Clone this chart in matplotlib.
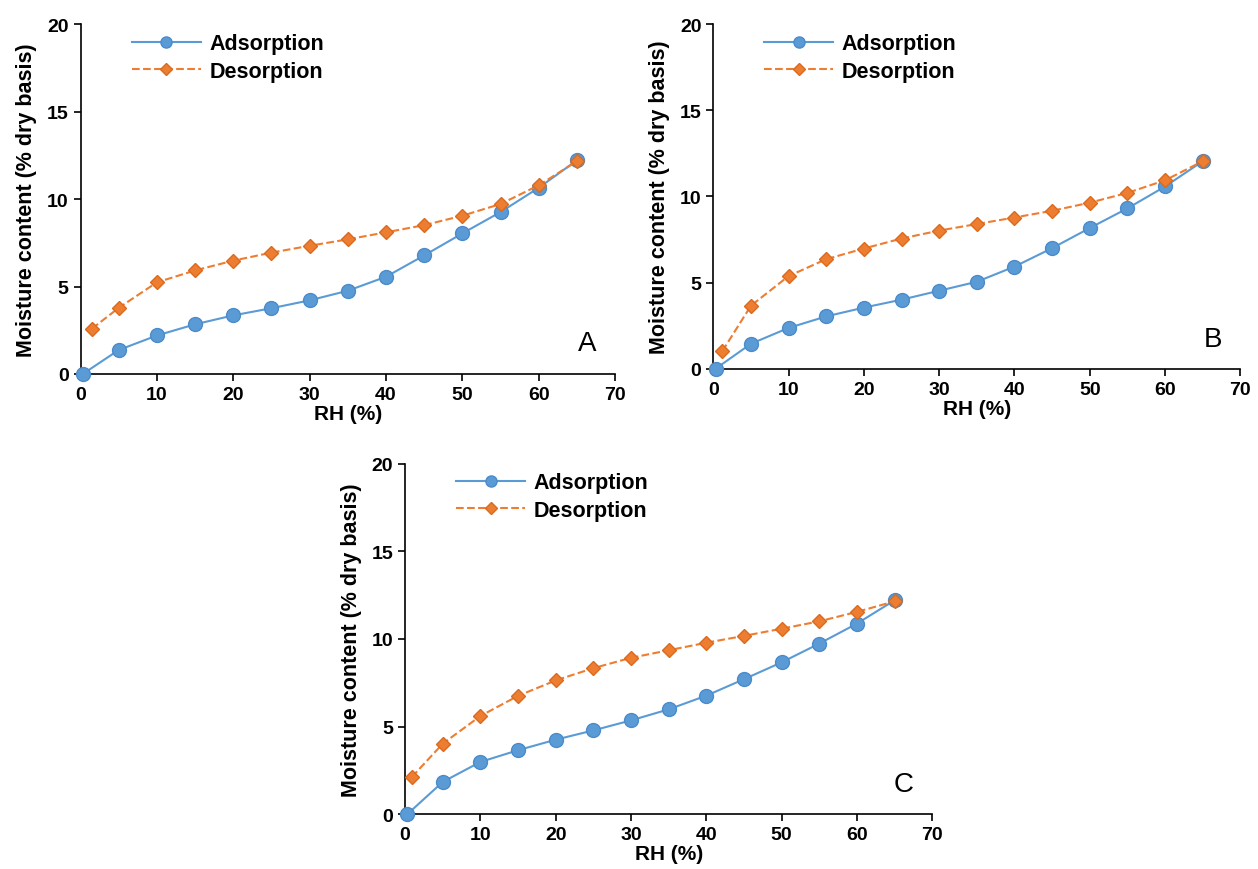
import matplotlib.pyplot as plt

# RH values (%)
rh_ads = [0.3, 5, 10, 15, 20, 25, 30, 35, 40, 45, 50, 55, 60, 65]
rh_des_A = [1.5, 5, 10, 15, 20, 25, 30, 35, 40, 45, 50, 55, 60, 65]
rh_des_B = [1.2, 5, 10, 15, 20, 25, 30, 35, 40, 45, 50, 55, 60, 65]
rh_des_C = [0.9, 5, 10, 15, 20, 25, 30, 35, 40, 45, 50, 55, 60, 65]

# moisture content (% dry basis)
ads_A = [0, 1.37, 2.2, 2.84, 3.35, 3.76, 4.21, 4.76, 5.56, 6.78, 8.04, 9.26, 10.65, 12.22]
des_A = [2.59, 3.78, 5.24, 5.92, 6.48, 6.94, 7.33, 7.7, 8.1, 8.51, 9.05, 9.72, 10.79, 12.17]

ads_B = [0, 1.45, 2.37, 3.04, 3.55, 4.01, 4.53, 5.05, 5.93, 7.0, 8.17, 9.31, 10.58, 12.05]
des_B = [1.02, 3.66, 5.38, 6.36, 6.98, 7.56, 8.02, 8.4, 8.78, 9.17, 9.64, 10.21, 10.94, 12.05]

ads_C = [0, 1.84, 2.98, 3.65, 4.25, 4.78, 5.35, 5.98, 6.76, 7.7, 8.66, 9.73, 10.87, 12.2]
des_C = [2.12, 4.02, 5.6, 6.75, 7.63, 8.33, 8.92, 9.35, 9.78, 10.17, 10.58, 11.0, 11.54, 12.14]

blue = '#5B9BD5'
orange = '#ED7D31'

plt.rcParams['font.family'] = ['Liberation Sans', 'DejaVu Sans']

fig = plt.figure(figsize=(12.58, 8.7), dpi=100)


def panel(rect, rh_d, ads, des, letter):
    ax = fig.add_axes(rect)
    ax.plot(rh_ads, ads, '-o', color=blue, lw=1.5, ms=10, clip_on=False,
            mfc=blue, mec='#4A8BCB', label='Adsorption', zorder=3)
    ax.plot(rh_d, des, '--D', color=orange, lw=1.5, ms=7.5, clip_on=False,
            mfc=orange, mec='#D96A1E', label='Desorption', zorder=4)
    ax.set_xlim(0, 70)
    ax.set_ylim(0, 20)
    ax.set_xticks(range(0, 71, 10))
    ax.set_yticks(range(0, 21, 5))
    for s in ['top', 'right']:
        ax.spines[s].set_visible(False)
    for s in ['left', 'bottom']:
        ax.spines[s].set_linewidth(1.2)
    ax.tick_params(direction='out', length=5, width=1.2, labelsize=14)
    for lab in ax.get_xticklabels() + ax.get_yticklabels():
        lab.set_fontweight('bold')
    ax.set_xlabel('RH (%)', fontsize=15, fontweight='bold', labelpad=1)
    ax.set_ylabel('Moisture content (% dry basis)', fontsize=15.5,
                  fontweight='bold', labelpad=7)
    ax.text(0.965, 0.05, letter, transform=ax.transAxes, fontsize=20,
            ha='right', va='bottom')
    leg = ax.legend(loc='upper left', bbox_to_anchor=(0.06, 1.03), frameon=False,
                    fontsize=15.5, handlelength=3.2, markerscale=0.8,
                    labelspacing=0.3, handletextpad=0.4)
    for t in leg.get_texts():
        t.set_fontweight('bold')
    return ax


panel([0.064, 0.569, 0.425, 0.402], rh_des_A, ads_A, des_A, 'A')
panel([0.567, 0.575, 0.419, 0.396], rh_des_B, ads_B, des_B, 'B')
panel([0.322, 0.063, 0.419, 0.403], rh_des_C, ads_C, des_C, 'C')

plt.savefig('out.png', dpi=100)
